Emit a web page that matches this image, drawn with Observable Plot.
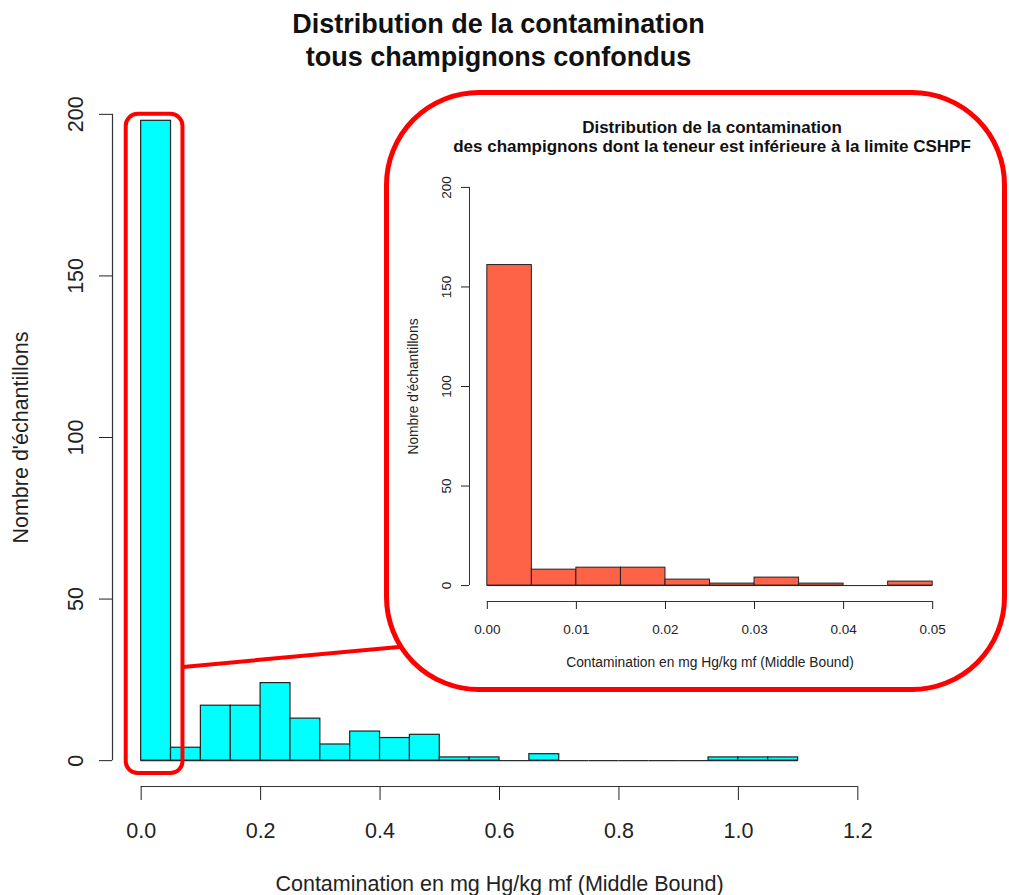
<!DOCTYPE html>
<html>
<head>
<meta charset="utf-8">
<script src="https://cdn.jsdelivr.net/npm/d3@7"></script>
<script src="https://cdn.jsdelivr.net/npm/@observablehq/plot@0.6"></script>
<style>
  body { margin: 0; background: #fff; font-family: "Liberation Sans", Arial, sans-serif; }
  #page { position: relative; width: 1009px; height: 895px; overflow: hidden; background: #fff; }
  #title { position: absolute; left: 0; top: 8px; width: 997px; text-align: center; font-weight: bold; font-size: 27px; line-height: 33px; color: #111; }
  #main { position: absolute; left: 0; top: 80px; }
  #insetBox { position: absolute; left: 384px; top: 90px; width: 623px; height: 602px; box-sizing: border-box; border: 5px solid #ff0000; border-radius: 95px; background: #fff; }
  #insetTitle { position: absolute; left: 412px; top: 118px; width: 600px; text-align: center; font-weight: bold; font-size: 17px; line-height: 19px; color: #111; }
  #inset { position: absolute; left: 389px; top: 160px; }
</style>
</head>
<body>
<div id="page">
  <div id="title"></div>
  <div id="main"></div>
  <div id="insetBox"></div>
  <div id="insetTitle"></div>
  <div id="inset"></div>
</div>
<script>
// ---------- data ----------
const mainTitle = ["Distribution de la contamination", "tous champignons confondus"];
const mainXLabel = "Contamination en mg Hg/kg mf (Middle Bound)";
const mainYLabel = "Nombre d'échantillons";
const mainBreaks = [0, 0.05, 0.1, 0.15, 0.2, 0.25, 0.3, 0.35, 0.4, 0.45, 0.5, 0.55, 0.6, 0.65, 0.7, 0.75, 0.8, 0.85, 0.9, 0.95, 1.0, 1.05, 1.1];
const mainCounts = [198, 4, 17, 17, 24, 13, 5, 9, 7, 8, 1, 1, 0, 2, 0, 0, 0, 0, 0, 1, 1, 1];
const mainXTicks = [0, 0.2, 0.4, 0.6, 0.8, 1.0, 1.2];
const mainYTicks = [0, 50, 100, 150, 200];
const mainXLim = [0, 1.2];
const mainYLim = [0, 200];

const insetTitle = ["Distribution de la contamination", "des champignons dont la teneur est inférieure à la limite CSHPF"];
const insetXLabel = "Contamination en mg Hg/kg mf (Middle Bound)";
const insetYLabel = "Nombre d'échantillons";
const insetBreaks = [0, 0.005, 0.01, 0.015, 0.02, 0.025, 0.03, 0.035, 0.04, 0.045, 0.05];
const insetCounts = [161, 8, 9, 9, 3, 1, 4, 1, 0, 2];
const insetXTicks = [0, 0.01, 0.02, 0.03, 0.04, 0.05];
const insetYTicks = [0, 50, 100, 150, 200];
const insetXLim = [0, 0.05];
const insetYLim = [0, 200];

// zoom annotation (data units of the main chart)
const zoomBox = [{x1: -0.025, x2: 0.07, y1: -4, y2: 200}];
const connector = [{x: 0.07, y: 29}, {x: 0.45, y: 35.5}];

// ---------- helpers ----------
const usr = (lim) => { const p = 0.04 * (lim[1] - lim[0]); return [lim[0] - p, lim[1] + p]; };
const toBins = (breaks, counts) => counts.map((c, i) => ({x1: breaks[i], x2: breaks[i + 1], y1: 0, y2: c}));

document.getElementById("title").innerHTML = mainTitle.join("<br>");
document.getElementById("insetTitle").innerHTML = insetTitle.join("<br>");

// ---------- main chart ----------
const mxd = usr(mainXLim), myd = usr(mainYLim);
const mainBins = toBins(mainBreaks, mainCounts);
const main = Plot.plot({
  width: 1009, height: 815,
  marginLeft: 112, marginRight: 123, marginTop: 8, marginBottom: 109,
  x: {domain: mxd},
  y: {domain: myd},
  style: {fontFamily: "'Liberation Sans', Arial, sans-serif", fontSize: "21.5px", color: "#222", background: "transparent", overflow: "visible"},
  marks: [
    Plot.rect(mainBins, {x1: "x1", x2: "x2", y1: "y1", y2: "y2", fill: "#00FFFF", stroke: "#222", strokeWidth: 1.2}),
    Plot.ruleY(mainBins, {x1: "x1", x2: "x2", y: "y1", stroke: "#222", strokeWidth: 1.2}),
    Plot.rect(zoomBox, {x1: "x1", x2: "x2", y1: "y1", y2: "y2", rx: 12, ry: 12, fill: "none", stroke: "#ff0000", strokeWidth: 4}),
    Plot.line(connector, {x: "x", y: "y", stroke: "#ff0000", strokeWidth: 4}),
    Plot.ruleX([mxd[0]], {y1: mainYTicks[0], y2: mainYTicks[mainYTicks.length - 1], stroke: "#333", strokeWidth: 1.2}),
    Plot.ruleY([myd[0]], {x1: mainXTicks[0], x2: mainXTicks[mainXTicks.length - 1], stroke: "#333", strokeWidth: 1.2}),
    Plot.axisX({ticks: mainXTicks, tickFormat: d3.format(".1f"), tickSize: 14, tickPadding: 22, label: null}),
    Plot.axisY({ticks: mainYTicks, tickRotate: -90, tickSize: 13, tickPadding: 17, label: null}),
    Plot.text([mainXLabel], {frameAnchor: "bottom", lineAnchor: "middle", textAnchor: "middle", dy: 98, fontSize: 21.5, fill: "#222"}),
    Plot.text([mainYLabel], {frameAnchor: "left", lineAnchor: "middle", textAnchor: "middle", rotate: -90, dx: -91, fontSize: 21.5, fill: "#222"})
  ]
});
document.getElementById("main").appendChild(main);

// ---------- inset chart ----------
const ixd = usr(insetXLim), iyd = usr(insetYLim);
const insetBins = toBins(insetBreaks, insetCounts);
const inset = Plot.plot({
  width: 613, height: 520,
  marginLeft: 80, marginRight: 52, marginTop: 11, marginBottom: 79,
  x: {domain: ixd},
  y: {domain: iyd},
  style: {fontFamily: "'Liberation Sans', Arial, sans-serif", fontSize: "13.5px", color: "#222", background: "transparent", overflow: "visible"},
  marks: [
    Plot.rect(insetBins, {x1: "x1", x2: "x2", y1: "y1", y2: "y2", fill: "#FF6347", stroke: "#222", strokeWidth: 1}),
    Plot.ruleY(insetBins, {x1: "x1", x2: "x2", y: "y1", stroke: "#222", strokeWidth: 1}),
    Plot.ruleX([ixd[0]], {y1: insetYTicks[0], y2: insetYTicks[insetYTicks.length - 1], stroke: "#333"}),
    Plot.ruleY([iyd[0]], {x1: insetXTicks[0], x2: insetXTicks[insetXTicks.length - 1], stroke: "#333"}),
    Plot.axisX({ticks: insetXTicks, tickFormat: d3.format(".2f"), tickSize: 8, tickPadding: 15, label: null}),
    Plot.axisY({ticks: insetYTicks, tickRotate: -90, tickSize: 8, tickPadding: 11, label: null}),
    Plot.text([insetXLabel], {frameAnchor: "bottom", lineAnchor: "middle", textAnchor: "middle", dy: 61, fontSize: 13.8, fill: "#222"}),
    Plot.text([insetYLabel], {frameAnchor: "left", lineAnchor: "middle", textAnchor: "middle", rotate: -90, dx: -56, fontSize: 13.8, fill: "#222"})
  ]
});
document.getElementById("inset").appendChild(inset);
</script>
</body>
</html>
